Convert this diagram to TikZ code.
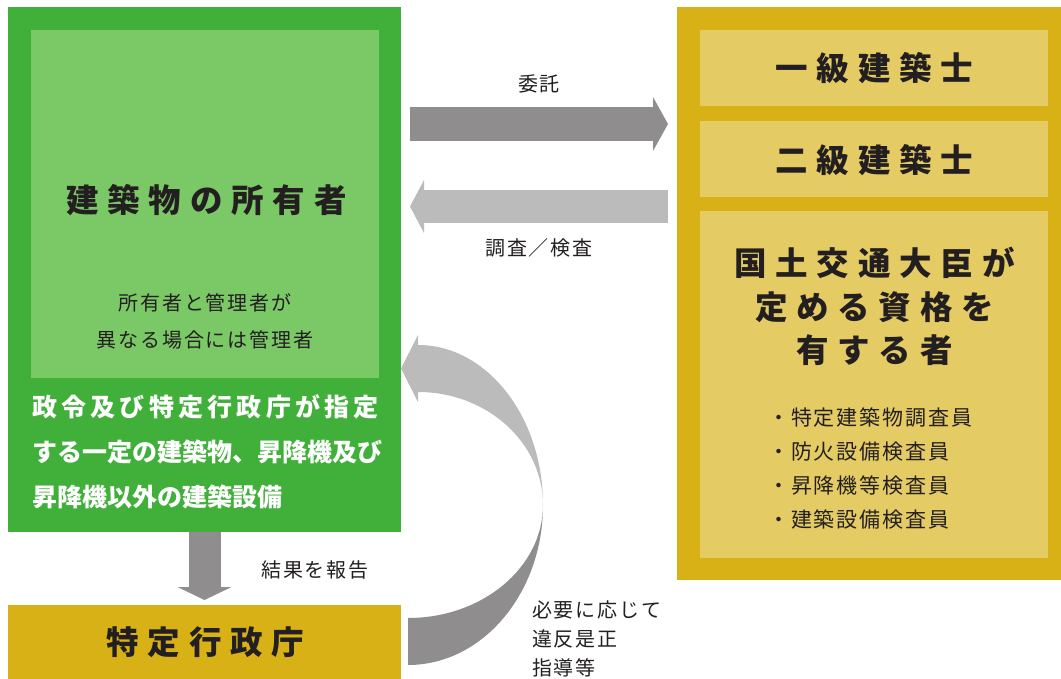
\documentclass[tikz,border=0pt]{standalone}
\usepackage{fontspec}
\usepackage{tikz}
\usetikzlibrary{arrows.meta}
\newfontfamily\jp[LetterSpace=9]{Noto Sans CJK JP}
\newfontfamily\jpplain{Noto Sans CJK JP}
\newfontfamily\jpwide[LetterSpace=27]{Noto Sans CJK JP}
\definecolor{ownergreen}{HTML}{41B03B}
\definecolor{ownerlight}{HTML}{7BC867}
\definecolor{archgold}{HTML}{D8B116}
\definecolor{archlight}{HTML}{E4CB64}
\definecolor{arrowdark}{HTML}{8F8D8E}
\definecolor{arrowlight}{HTML}{BBBBBB}
\definecolor{inkdark}{HTML}{231F20}
\newcommand{\panel}[6]{ \node[panel, fill=#5, minimum width=#3pt, minimum height=#4pt] (#6) at ( #1 , #2 ) {};}
\tikzset{
  panel/.style={rectangle, draw=none, inner sep=0pt, outer sep=0pt},
  headtext/.style={font=\jpwide\bfseries\fontsize{32.5}{43.5}\selectfont, text=inkdark, inner sep=0pt, align=center},
  bodytext/.style={font=\jp\fontsize{20}{37}\selectfont, text=inkdark, inner sep=0pt},
  flowtext/.style={font=\jp\fontsize{20}{29}\selectfont, text=inkdark, inner sep=0pt},
  blockarrow/.style={line width=#1, shorten <=9pt, shorten >=9pt},
  entrust/.style={blockarrow=34pt, draw=arrowdark, -{Triangle[length=15pt, width=54pt, line width=0pt]}},
  survey/.style={blockarrow=33pt, draw=arrowlight, -{Triangle[length=14pt, width=53pt, line width=0pt]}},
  report/.style={line width=32pt, draw=arrowdark, shorten >=5pt, -{Triangle[length=13pt, width=54pt, line width=0pt]}}
}

\begin{document}
\begin{tikzpicture}[x=1pt, y=-1pt]
  \useasboundingbox (0,0) rectangle (1061,679);

  % owner side
  \panel{204.5}{269.5}{393}{525}{ownergreen}{ownerbox}
  \panel{205}{204}{348}{348}{ownerlight}{ownerinner}
  \panel{204.5}{642}{393}{74}{archgold}{agencybox}

  % architect side
  \panel{869}{293.5}{384}{573}{archgold}{archbox}
  \panel{874}{68}{348}{76}{archlight}{firstclass}
  \panel{874}{159}{348}{76}{archlight}{secondclass}
  \panel{874}{384.5}{348}{347}{archlight}{qualified}

  % texts in the panels
  \node[headtext] (ownertitle) at (206.5,200) {建築物の所有者};
  \node[bodytext, align=center] (ownernote) at (205,321.5) {所有者と管理者が\\異なる場合には管理者};
  \node[font=\jpplain\bfseries\fontsize{25}{45}\selectfont, text=white, inner sep=0pt, align=left, anchor=west] (scopetext) at (32,452)
    {{\addfontfeatures{LetterSpace=17}政令及び特定行政庁が指定}\\する一定の建築物、昇降機及び\\昇降機以外の建築設備};
  \node[headtext] (agencytitle) at (205.5,642) {特定行政庁};
  \node[headtext] (firsttitle) at (874.5,68) {一級建築士};
  \node[headtext] (secondtitle) at (874.5,160) {二級建築士};
  \node[headtext] (qualtitle) at (874.5,306.5) {国土交通大臣が\\定める資格を\\有する者};
  \node[bodytext, align=left, anchor=west, font=\jp\fontsize{21}{34.3}\selectfont] (quallist) at (768,468.5)
    {・特定建築物調査員\\・防火設備検査員\\・昇降機等検査員\\・建築設備検査員};

  % arrows
  \draw[entrust] (ownerbox.east |- 0,124) -- (archbox.west |- 0,124);
  \draw[survey] (archbox.west |- 0,206.5) -- (ownerbox.east |- 0,206.5);
  \draw[report] (ownerbox.south) -- (agencybox.north);
  \coordinate (bendpeak) at (543,505);
  \fill[arrowlight] (418,345) .. controls (487,345) and (543,416.7) .. (bendpeak)
    .. controls (543,442.6) and (487,392) .. (418,392) -- (418,402) -- (401,368.5) -- (418,335) -- cycle;
  \fill[arrowdark] (bendpeak) .. controls (543,593.3) and (482.5,665) .. (408,665)
    -- (408,618) .. controls (482.5,618) and (543,567.4) .. (bendpeak) -- cycle;

  % arrow labels
  \node[flowtext] (entrustlabel) at (539,84) {委託};
  \node[flowtext] (surveylabel) at (539,248) {調査／検査};
  \node[flowtext] (reportlabel) at (315,570) {結果を報告};
  \node[flowtext, align=left, anchor=west] (correctlabel) at (532,639) {必要に応じて\\違反是正\\指導等};
\end{tikzpicture}
\end{document}
